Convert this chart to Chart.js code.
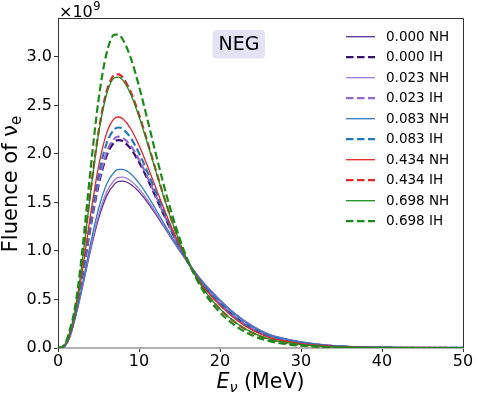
<!DOCTYPE html>
<html>
<head>
<meta charset="utf-8">
<script src="https://cdn.jsdelivr.net/npm/chart.js@4.4.1/dist/chart.umd.min.js"></script>
<style>
  html, body { margin: 0; padding: 0; background: #fff; }
  #wrap { width: 478px; height: 396px; }
</style>
</head>
<body>
<div id="wrap"><canvas id="fluence" width="478" height="396"></canvas></div>
<script>
/* ---- data (fluence in units of 1e9) ---- */
const energies = [0, 0.5, 1, 1.5, 2, 2.5, 3, 3.5, 4, 5, 6, 7, 7.5, 8, 9, 10, 11, 12, 13, 14, 15, 16, 18, 20, 22, 24, 26, 28, 30, 33, 36, 40, 45, 50];

const nh000 = [0, .004, .035, .120, .270, .435, .620, .812, 1.001, 1.330, 1.565, 1.691, 1.716, 1.719, 1.684, 1.608, 1.506, 1.387, 1.260, 1.130, 1.004, .884, .670, .496, .345, .228, .143, .096, .064, .031, .014, .0056, .0017, .0005];
const ih000 = [0, .006, .043, .143, .298, .494, .729, .981, 1.233, 1.675, 1.980, 2.125, 2.142, 2.131, 2.051, 1.915, 1.749, 1.567, 1.384, 1.206, 1.041, .890, .644, .459, .311, .200, .124, .081, .052, .025, .011, .0043, .0013, .0004];
const nh023 = [0, .004, .036, .122, .273, .441, .631, .829, 1.024, 1.364, 1.606, 1.734, 1.758, 1.760, 1.720, 1.639, 1.530, 1.405, 1.272, 1.138, 1.008, .885, .667, .492, .342, .225, .141, .094, .063, .030, .014, .0055, .0017, .0005];
const ih023 = [0, .006, .044, .144, .301, .499, .737, .995, 1.252, 1.703, 2.014, 2.160, 2.177, 2.164, 2.081, 1.941, 1.769, 1.582, 1.394, 1.212, 1.044, .891, .642, .456, .308, .198, .122, .079, .052, .024, .011, .0042, .0012, .0003];
const nh083 = [0, .005, .037, .127, .278, .452, .652, .862, 1.069, 1.432, 1.687, 1.819, 1.841, 1.840, 1.792, 1.699, 1.578, 1.440, 1.296, 1.152, 1.015, .886, .662, .485, .335, .220, .137, .091, .061, .029, .013, .0052, .0016, .0005];
const ih083 = [0, .006, .046, .149, .307, .512, .762, 1.032, 1.304, 1.780, 2.107, 2.257, 2.272, 2.256, 2.162, 2.009, 1.823, 1.622, 1.421, 1.229, 1.052, .892, .636, .448, .300, .192, .118, .076, .049, .023, .010, .0039, .0011, .0003];
const nh434 = [0, .007, .048, .155, .314, .527, .789, 1.076, 1.363, 1.869, 2.213, 2.368, 2.380, 2.361, 2.256, 2.088, 1.885, 1.668, 1.453, 1.248, 1.061, .894, .630, .439, .291, .184, .113, .072, .046, .021, .009, .0036, .0010, .0003];
const ih434 = [0, .008, .057, .178, .343, .589, .901, 1.250, 1.602, 2.225, 2.642, 2.815, 2.820, 2.786, 2.634, 2.405, 2.136, 1.854, 1.580, 1.326, 1.099, .901, .603, .401, .256, .156, .093, .056, .034, .015, .006, .0022, .0006, .0001];
const nh698 = [0, .008, .056, .177, .341, .585, .894, 1.238, 1.586, 2.202, 2.614, 2.786, 2.791, 2.759, 2.610, 2.384, 2.120, 1.842, 1.572, 1.321, 1.097, .900, .605, .403, .258, .158, .094, .057, .035, .015, .007, .0023, .0006, .0001];
const ih698 = [0, .010, .065, .200, .370, .645, 1.005, 1.411, 1.823, 2.554, 3.038, 3.229, 3.226, 3.179, 2.984, 2.698, 2.368, 2.026, 1.698, 1.398, 1.134, .907, .578, .366, .223, .129, .074, .041, .023, .009, .0036, .001, .0002, 0];

const seriesLabels = ['0.000 NH', '0.000 IH', '0.023 NH', '0.023 IH', '0.083 NH', '0.083 IH', '0.434 NH', '0.434 IH', '0.698 NH', '0.698 IH'];
const seriesData   = [nh000, ih000, nh023, ih023, nh083, ih083, nh434, ih434, nh698, ih698];
const seriesColors = ['#5e2d91', '#3b0d6e', '#9d7bd8', '#9466d2', '#2f7cc0', '#2478bb', '#e3262b', '#e3262b', '#1a901a', '#1a8a1a'];

const xTicks = [0, 10, 20, 30, 40, 50];
const yTicks = [0, 0.5, 1.0, 1.5, 2.0, 2.5, 3.0];

const FONT = 'DejaVu Sans';

const datasets = seriesData.map((arr, i) => {
  const dashed = seriesLabels[i].endsWith('IH');
  return {
    label: seriesLabels[i],
    data: energies.map((e, k) => ({ x: e, y: arr[k] })),
    borderColor: seriesColors[i],
    borderWidth: dashed ? 2.2 : 1.3,
    borderDash: dashed ? [7.5, 3.5] : [],
    pointRadius: 0,
    fill: false,
    cubicInterpolationMode: 'monotone',
    order: 20 - i
  };
});

// extra drawing: frame, scale note, axis titles, NEG tag, legend
const extras = {
  id: 'extras',
  afterDraw(chart) {
    const { ctx, chartArea: a } = chart;
    ctx.save();
    // top + right spines
    ctx.strokeStyle = '#333';
    ctx.lineWidth = 1;
    ctx.beginPath();
    ctx.moveTo(a.left, a.top + 0.5);
    ctx.lineTo(a.right + 0.5, a.top + 0.5);
    ctx.lineTo(a.right + 0.5, a.bottom);
    ctx.stroke();

    ctx.fillStyle = '#000';
    // ×10^9
    ctx.textBaseline = 'alphabetic';
    ctx.textAlign = 'left';
    ctx.font = `16px "${FONT}"`;
    ctx.fillText('×10', a.left + 1, 16.5);
    const w10 = ctx.measureText('×10').width;
    ctx.font = `11.5px "${FONT}"`;
    ctx.fillText('9', a.left + 1 + w10 + 0.5, 10);

    // y title: Fluence of ν_e
    ctx.save();
    ctx.translate(10, (a.top + a.bottom) / 2 + 1);
    ctx.rotate(-Math.PI / 2);
    ctx.font = `21px "${FONT}"`;
    const main = 'Fluence of ν';
    const wm = ctx.measureText(main).width;
    ctx.font = `15px "${FONT}"`;
    const ws = ctx.measureText('e').width;
    const x0 = -(wm + ws) / 2;
    ctx.font = `21px "${FONT}"`;
    ctx.fillText(main, x0, 7);
    ctx.font = `15px "${FONT}"`;
    ctx.fillText('e', x0 + wm, 11);
    ctx.restore();

    // x title: E_ν (MeV)
    ctx.font = `italic 20.5px "${FONT}"`;
    const wE = ctx.measureText('E').width;
    ctx.font = `italic 14.5px "${FONT}"`;
    const wNu = ctx.measureText('ν').width;
    ctx.font = `20.5px "${FONT}"`;
    const wRest = ctx.measureText(' (MeV)').width;
    let xs = (a.left + a.right) / 2 - (wE + wNu + wRest) / 2;
    ctx.font = `italic 20.5px "${FONT}"`;
    ctx.fillText('E', xs, 387.5);
    ctx.font = `italic 14.5px "${FONT}"`;
    ctx.fillText('ν', xs + wE, 391.5);
    ctx.font = `20.5px "${FONT}"`;
    ctx.fillText(' (MeV)', xs + wE + wNu, 387.5);

    // NEG tag
    ctx.fillStyle = '#e3e3f5';
    ctx.beginPath();
    ctx.roundRect(212.5, 30, 52.5, 28.5, 4);
    ctx.fill();
    ctx.fillStyle = '#000';
    ctx.font = `19px "${FONT}"`;
    ctx.textAlign = 'center';
    ctx.textBaseline = 'middle';
    ctx.fillText('NEG', 239, 45);

    // legend
    ctx.textAlign = 'left';
    ctx.font = `13.5px "${FONT}"`;
    chart.data.datasets.forEach((ds, i) => {
      const y = 36.7 + 20.5 * i;
      ctx.strokeStyle = ds.borderColor;
      ctx.lineWidth = ds.borderWidth;
      ctx.setLineDash(ds.borderDash);
      ctx.beginPath();
      ctx.moveTo(346, y);
      ctx.lineTo(375, y);
      ctx.stroke();
      ctx.setLineDash([]);
      ctx.fillStyle = '#000';
      ctx.fillText(ds.label, 386, y + 0.5);
    });
    ctx.restore();
  }
};

new Chart(document.getElementById('fluence'), {
  type: 'line',
  data: { datasets },
  options: {
    responsive: false,
    animation: false,
    layout: { padding: { left: 0, right: 15, top: 18, bottom: 0 } },
    plugins: { legend: { display: false }, tooltip: { enabled: false } },
    scales: {
      x: {
        type: 'linear', min: 0, max: 50,
        afterFit: s => { s.height = 48; },
        afterBuildTicks: s => { s.ticks = xTicks.map(v => ({ value: v })); },
        ticks: { color: '#000', font: { family: FONT, size: 16 }, padding: 0, maxRotation: 0 },
        grid: { drawOnChartArea: false, drawTicks: true, tickLength: 4, color: '#333' },
        border: { color: '#b0b0b0', width: 2 }
      },
      y: {
        type: 'linear', min: 0, max: 3.4,
        afterFit: s => { s.width = 58; },
        afterBuildTicks: s => { s.ticks = yTicks.map(v => ({ value: v })); },
        ticks: { color: '#000', font: { family: FONT, size: 16 }, padding: 2, callback: v => v.toFixed(1) },
        grid: { drawOnChartArea: false, drawTicks: true, tickLength: 4, color: '#333' },
        border: { color: '#333', width: 1 }
      }
    }
  },
  plugins: [extras]
});
</script>
</body>
</html>
